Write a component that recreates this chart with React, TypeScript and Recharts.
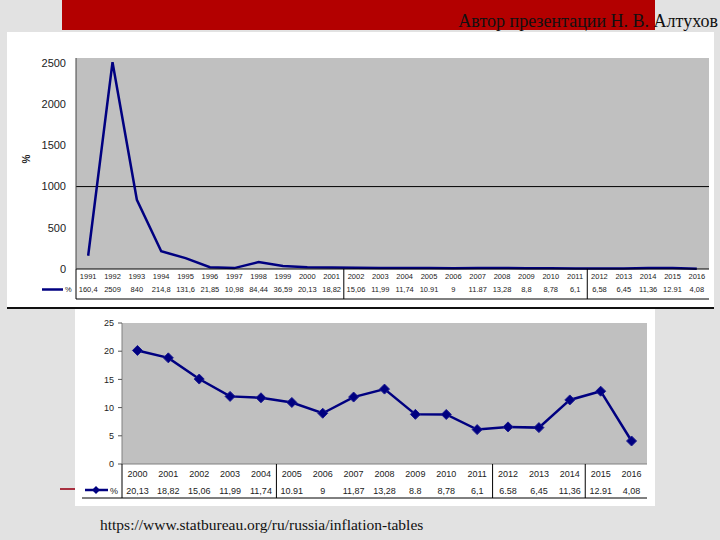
import React from "react";
import {
    LineChart,
    Line,
    XAxis,
    YAxis,
    CartesianGrid,
    ReferenceLine,
} from "recharts";

// top chart: 1991-2016
const topYears = [
    "1991", "1992", "1993", "1994", "1995", "1996", "1997", "1998", "1999", "2000",
    "2001", "2002", "2003", "2004", "2005", "2006", "2007", "2008", "2009", "2010",
    "2011", "2012", "2013", "2014", "2015", "2016",
];
const topValues = [
    160.4, 2509, 840, 214.8, 131.6, 21.85, 10.98, 84.44, 36.59, 20.13,
    18.82, 15.06, 11.99, 11.74, 10.91, 9, 11.87, 13.28, 8.8, 8.78,
    6.1, 6.58, 6.45, 11.36, 12.91, 4.08,
];
const topLabels = [
    "160,4", "2509", "840", "214,8", "131,6", "21,85", "10,98", "84,44", "36,59", "20,13",
    "18,82", "15,06", "11,99", "11,74", "10.91", "9", "11.87", "13,28", "8,8", "8,78",
    "6,1", "6,58", "6,45", "11,36", "12.91", "4,08",
];
const topTicks = [0, 500, 1000, 1500, 2000, 2500];
const topSeparators = [11, 21];

// bottom chart: 2000-2016
const bottomYears = [
    "2000", "2001", "2002", "2003", "2004", "2005", "2006", "2007", "2008",
    "2009", "2010", "2011", "2012", "2013", "2014", "2015", "2016",
];
const bottomValues = [
    20.13, 18.82, 15.06, 11.99, 11.74, 10.91, 9, 11.87, 13.28,
    8.8, 8.78, 6.1, 6.58, 6.45, 11.36, 12.91, 4.08,
];
const bottomLabels = [
    "20,13", "18,82", "15,06", "11,99", "11,74", "10.91", "9", "11,87", "13,28",
    "8.8", "8,78", "6,1", "6.58", "6,45", "11,36", "12.91", "4,08",
];
const bottomTicks = [0, 5, 10, 15, 20, 25];
const bottomSeparators = [5, 12, 15];

const topData = topYears.map((year, i) => ({ year, value: topValues[i] }));
const bottomData = bottomYears.map((year, i) => ({ year, value: bottomValues[i] }));

const NAVY = "#000080";
const PLOT_GRAY = "#c0c0c0";
const FONT = "'Liberation Sans', Arial, sans-serif";
const SERIF = "'Liberation Serif', 'Times New Roman', serif";

const TOP_W = 707;
const TOP_H = 275;
const TOP_YW = 69;
const TOP_MR = 5;
const TOP_BW = (TOP_W - TOP_YW - TOP_MR) / topYears.length;

const BOT_W = 580;
const BOT_H = 197;
const BOT_YW = 47;
const BOT_MR = 8;
const BOT_BW = (BOT_W - BOT_YW - BOT_MR) / bottomYears.length;

const TopTick = (props: any) => {
    const { x, y, payload } = props;
    const i = payload.index;
    const half = TOP_BW / 2;
    const left = x - half;
    return (
        <g>
            <text x={x} y={y + 9.5} textAnchor="middle" fontSize={7.5} fill="#222" fontFamily={FONT}>
                {payload.value}
            </text>
            <text x={x} y={y + 23} textAnchor="middle" fontSize={7.5} fill="#222" fontFamily={FONT}>
                {topLabels[i]}
            </text>
            {(i === 0 || topSeparators.includes(i)) && (
                <line x1={left} x2={left} y1={y} y2={y + 30} stroke="#000" strokeWidth={1} />
            )}
            {i === 0 && (
                <>
                    <line x1={left} x2={left + TOP_BW * topYears.length} y1={y + 30} y2={y + 30} stroke="#000" />
                    <line x1={left - 34} x2={left - 13} y1={y + 20.5} y2={y + 20.5} stroke={NAVY} strokeWidth={2.5} />
                    <text x={left - 11} y={y + 23} fontSize={7.5} fill="#222" fontFamily={FONT}>%</text>
                </>
            )}
        </g>
    );
};

const BottomTick = (props: any) => {
    const { x, y, payload } = props;
    const i = payload.index;
    const half = BOT_BW / 2;
    const left = x - half;
    return (
        <g>
            <text x={x} y={y + 12.5} textAnchor="middle" fontSize={9} fill="#222" fontFamily={FONT}>
                {payload.value}
            </text>
            <text x={x} y={y + 29.5} textAnchor="middle" fontSize={9} fill="#222" fontFamily={FONT}>
                {bottomLabels[i]}
            </text>
            {(i === 0 || bottomSeparators.includes(i)) && (
                <line x1={left} x2={left} y1={y} y2={y + 34} stroke="#000" strokeWidth={1} />
            )}
            {i === 0 && (
                <>
                    <line x1={left - 40} x2={left + BOT_BW * bottomYears.length} y1={y + 34} y2={y + 34} stroke="#000" />
                    <line x1={left - 37} x2={left - 14} y1={y + 26} y2={y + 26} stroke={NAVY} strokeWidth={2.5} />
                    <polygon
                        points={`${left - 26},${y + 22} ${left - 22},${y + 26} ${left - 26},${y + 30} ${left - 30},${y + 26}`}
                        fill={NAVY}
                    />
                    <text x={left - 12} y={y + 29.5} fontSize={9} fill="#222" fontFamily={FONT}>%</text>
                </>
            )}
        </g>
    );
};

const Diamond = (props: any) => {
    const { cx, cy, index } = props;
    if (cx == null || cy == null) return null;
    const r = 5;
    return (
        <polygon
            key={`d-${index}`}
            points={`${cx},${cy - r} ${cx + r},${cy} ${cx},${cy + r} ${cx - r},${cy}`}
            fill={NAVY}
            stroke="#1a1a90"
            strokeWidth={1}
        />
    );
};

export default function App() {
    return (
        <div
            style={{
                position: "absolute",
                left: 0,
                top: 0,
                width: 720,
                height: 540,
                overflow: "hidden",
                background: "#e2e2e2",
                fontFamily: SERIF,
            }}
        >
            {/* red header bar */}
            <div style={{ position: "absolute", left: 62, top: 0, width: 593, height: 30, background: "#b30000" }} />
            <div
                style={{
                    position: "absolute",
                    right: 2,
                    top: 11,
                    fontSize: 18,
                    color: "#111",
                    fontFamily: SERIF,
                    whiteSpace: "nowrap",
                }}
            >
                Автор презентации Н. В. Алтухов
            </div>

            {/* top chart panel */}
            <div
                style={{
                    position: "absolute",
                    left: 7,
                    top: 32,
                    width: TOP_W,
                    height: TOP_H,
                    background: "#fff",
                    borderBottom: "2px solid #111",
                }}
            >
                <LineChart
                    width={TOP_W}
                    height={TOP_H}
                    data={topData}
                    margin={{ top: 26, right: TOP_MR, bottom: 0, left: 0 }}
                >
                    <CartesianGrid fill={PLOT_GRAY} horizontal={false} vertical={false} />
                    <XAxis
                        xAxisId="t"
                        dataKey="year"
                        orientation="top"
                        height={0}
                        tick={false}
                        tickLine={false}
                        axisLine={{ stroke: "#808080" }}
                    />
                    <YAxis
                        yAxisId="r"
                        orientation="right"
                        width={0}
                        tick={false}
                        tickLine={false}
                        axisLine={{ stroke: "#808080" }}
                    />
                    <XAxis
                        dataKey="year"
                        interval={0}
                        height={38}
                        padding={{ left: TOP_BW / 2, right: TOP_BW / 2 }}
                        tickSize={0}
                        tickMargin={0}
                        tickLine={false}
                        axisLine={{ stroke: "#000" }}
                        tick={<TopTick />}
                    />
                    <YAxis
                        width={TOP_YW}
                        domain={[0, 2560]}
                        ticks={topTicks}
                        tickLine={false}
                        tickSize={0}
                        tickMargin={10}
                        axisLine={{ stroke: "#444" }}
                        tick={{ fontSize: 11, fill: "#222", fontFamily: FONT }}
                        label={{
                            value: "%",
                            angle: -90,
                            position: "insideLeft",
                            offset: 19,
                            style: { fontSize: 10, fontWeight: 700, fill: "#222", fontFamily: FONT },
                        }}
                    />
                    <ReferenceLine y={1000} stroke="#000" strokeWidth={1} />
                    <Line
                        type="linear"
                        dataKey="value"
                        stroke={NAVY}
                        strokeWidth={2.5}
                        dot={false}
                        isAnimationActive={false}
                    />
                </LineChart>
            </div>

            {/* red decoration dash */}
            <div style={{ position: "absolute", left: 60, top: 488, width: 15, height: 2, background: "#a83040" }} />

            {/* bottom chart panel */}
            <div
                style={{
                    position: "absolute",
                    left: 75,
                    top: 309,
                    width: BOT_W,
                    height: BOT_H,
                    background: "#fff",
                }}
            >
                <LineChart
                    width={BOT_W}
                    height={BOT_H}
                    data={bottomData}
                    margin={{ top: 14, right: BOT_MR, bottom: 0, left: 0 }}
                >
                    <CartesianGrid fill={PLOT_GRAY} horizontal={false} vertical={false} />
                    <XAxis
                        xAxisId="t"
                        dataKey="year"
                        orientation="top"
                        height={0}
                        tick={false}
                        tickLine={false}
                        axisLine={{ stroke: "#808080" }}
                    />
                    <YAxis
                        yAxisId="r"
                        orientation="right"
                        width={0}
                        tick={false}
                        tickLine={false}
                        axisLine={{ stroke: "#808080" }}
                    />
                    <XAxis
                        dataKey="year"
                        interval={0}
                        height={42}
                        padding={{ left: BOT_BW / 2, right: BOT_BW / 2 }}
                        tickSize={0}
                        tickMargin={0}
                        tickLine={false}
                        axisLine={{ stroke: "#808080" }}
                        tick={<BottomTick />}
                    />
                    <YAxis
                        width={BOT_YW}
                        domain={[0, 25]}
                        ticks={bottomTicks}
                        tickSize={4}
                        tickMargin={4}
                        tickLine={{ stroke: "#555" }}
                        axisLine={{ stroke: "#808080" }}
                        tick={{ fontSize: 9, fill: "#222", fontFamily: FONT }}
                    />
                    <Line
                        type="linear"
                        dataKey="value"
                        stroke={NAVY}
                        strokeWidth={2.5}
                        dot={<Diamond />}
                        isAnimationActive={false}
                    />
                </LineChart>
            </div>

            {/* source */}
            <div
                style={{
                    position: "absolute",
                    left: 100,
                    top: 516,
                    fontSize: 15.5,
                    color: "#111",
                    fontFamily: SERIF,
                    whiteSpace: "nowrap",
                }}
            >
                https://www.statbureau.org/ru/russia/inflation-tables
            </div>
        </div>
    );
}
